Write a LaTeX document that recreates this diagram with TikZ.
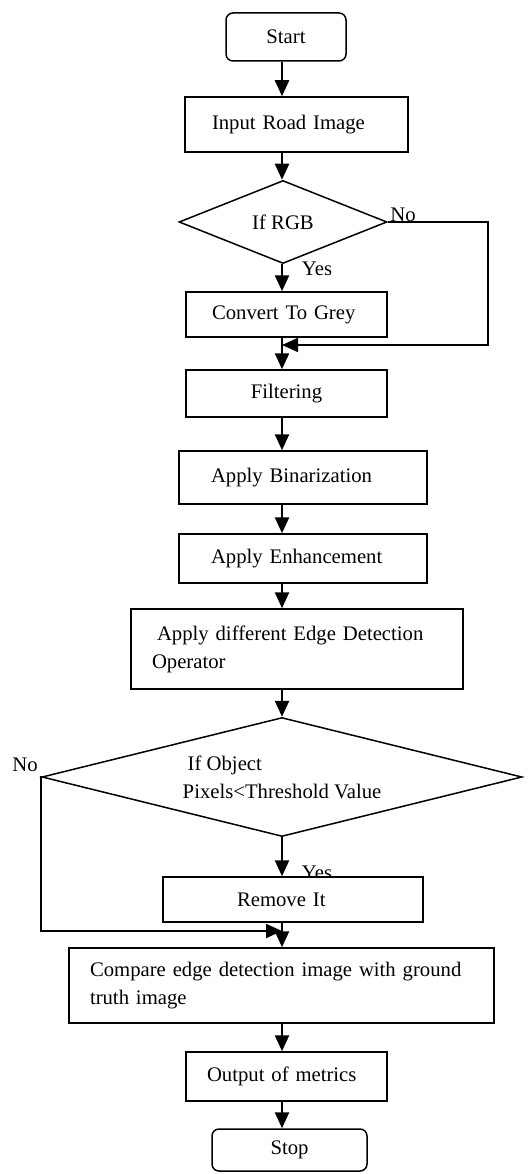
\documentclass[tikz,border=0pt]{standalone}
\usepackage{fontspec}
\setmainfont{Liberation Serif}
\usetikzlibrary{shapes.geometric,arrows.meta}

\tikzset{
  stepbox/.style={draw, line width=1.5pt, inner ysep=0pt, align=left},
  termbox/.style={draw, line width=1.5pt, rounded corners=7pt, inner sep=0pt},
  testbox/.style={draw, diamond, line width=1.5pt, inner sep=0pt},
  flow/.style={line width=2.5pt, -{Triangle[length=16pt,width=14pt]}},
  loopline/.style={line width=1.8pt, -{Triangle[length=16pt,width=14pt]}},
}

\begin{document}
\begin{tikzpicture}[x=1pt,y=-1pt, font=\fontsize{20.7}{28}\selectfont]
  \useasboundingbox (0,0) rectangle (527,1174);
  \coordinate (axis) at (282,0);

  % main column
  \node[termbox, minimum width=120pt, minimum height=48pt] (start) at (286,37) {Start};
  \node[stepbox, text width=169pt, inner xsep=27pt, minimum height=55pt] (input) at (296.5,124.5) {Input Road Image};
  \node[testbox, aspect=2.5, minimum width=208pt, minimum height=83pt] (rgb) at (283,222) {If RGB};
  \node[stepbox, text width=149pt, inner xsep=26pt, minimum height=45pt] (grey) at (286.5,314.5) {Convert To Grey};
  \node[stepbox, align=center, minimum width=201pt, minimum height=47pt] (filter) at (286.5,393.5) {Filtering};
  \node[stepbox, text width=184pt, inner xsep=32pt, minimum height=53pt] (binar) at (303,477.5) {Apply Binarization};
  \node[stepbox, text width=184pt, inner xsep=32pt, minimum height=49pt] (enhance) at (303,558.5) {Apply Enhancement};
  \node[stepbox, text width=290pt, inner xsep=21pt, minimum height=80pt] (edge) at (297,649) {\hspace*{5pt}Apply different Edge Detection\\Operator};
  \node[testbox, aspect=4, align=left, minimum width=480pt, minimum height=119pt] (obj) at (282,777) {\hspace*{5pt}If Object\\Pixels<Threshold Value};
  \node (yes2) at (317,873) {Yes};
  \node[stepbox, fill=white, text width=112pt, inner xsep=74pt, minimum height=45pt] (remove) at (293,899.5) {Remove It};
  \node[stepbox, text width=383pt, inner xsep=21pt, minimum height=75pt] (compare) at (281.5,985.5) {Compare edge detection image with ground\\truth image};
  \node[stepbox, text width=159pt, inner xsep=21pt, minimum height=49pt] (output) at (286.5,1076.5) {Output of metrics};
  \node[termbox, minimum width=155pt, minimum height=42pt] (stop) at (289.5,1150) {Stop};

  % branch labels
  \node (no1) at (403,215) {No};
  \node (yes1) at (317,269) {Yes};
  \node (no2) at (25,765) {No};

  % arrows down the column
  \foreach \a/\b in {start/input,input/rgb,rgb/grey,grey/filter,filter/binar,binar/enhance,
                     enhance/edge,edge/obj,obj/remove,remove/compare,compare/output,output/stop}
    \draw[flow] (\a.south -| axis) -- (\b.north -| axis);

  % the two "No" bypasses
  \coordinate (bend1) at (488,345);
  \coordinate (merge1) at (282,345);
  \draw[loopline] (rgb.east) -| (bend1) -- (merge1);
  \coordinate (bend2) at (41,931);
  \coordinate (merge2) at (282,931);
  \draw[loopline] (obj.west) -| (bend2) -- (merge2);
\end{tikzpicture}
\end{document}
